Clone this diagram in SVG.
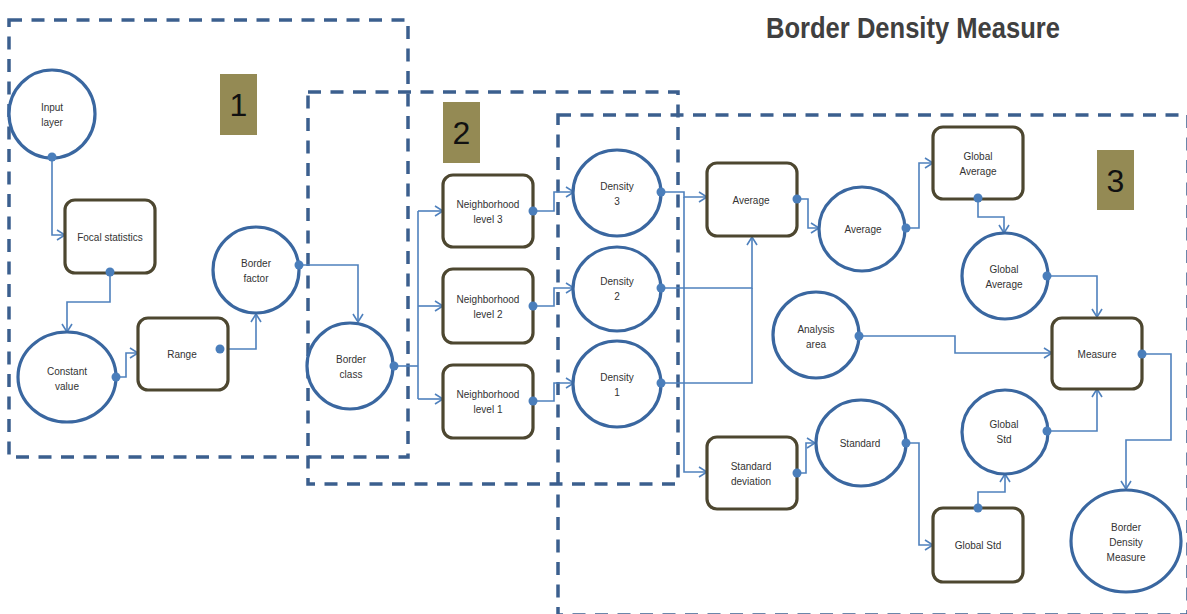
<svg xmlns="http://www.w3.org/2000/svg" width="1187" height="614" viewBox="0 0 1187 614">
  <defs>
    <marker id="arrow" viewBox="0 0 10 12" markerWidth="10" markerHeight="12" refX="9" refY="6" orient="auto" markerUnits="userSpaceOnUse">
      <path d="M1,1 L9,6 L1,11" fill="none" stroke="#4F81BD" stroke-width="1.6"/>
    </marker>
    <style>
      .zone { fill: none; stroke: #3B5F8E; stroke-width: 3.5; stroke-dasharray: 13 9.5; }
      .tag { fill: #948A54; }
      .tagtxt { font-family: "Liberation Sans", "DejaVu Sans", sans-serif; font-size: 32px; fill: #111; text-anchor: middle; }
      .data { fill: #fff; stroke: #3A67A0; stroke-width: 3.2; }
      .tool { fill: #fff; stroke: #4D4730; stroke-width: 3.2; }
      .lbl { font-family: "Liberation Sans", "DejaVu Sans", sans-serif; font-size: 10px; fill: #333; text-anchor: middle; }
      .wire { fill: none; stroke: #4F81BD; stroke-width: 1.6; }
      .dot { fill: #4A7EBB; }
      .title { font-family: "Liberation Sans", "DejaVu Sans", sans-serif; font-size: 30px; font-weight: bold; fill: #404040; }
    </style>
  </defs>

  <rect width="1187" height="614" fill="#fff"/>

  <!-- stage frames -->
  <g id="frames">
    <rect class="zone" x="9" y="20" width="399" height="437"/>
    <rect class="zone" x="308" y="92" width="370" height="392"/>
    <rect class="zone" x="558" y="115" width="630" height="500"/>
  </g>

  <text class="title" x="766" y="38" textLength="294" lengthAdjust="spacingAndGlyphs">Border Density Measure</text>

  <!-- stage numbers -->
  <g id="tag1"><rect class="tag" x="220" y="74" width="37" height="61"/><text class="tagtxt" x="238.5" y="116">1</text></g>
  <g id="tag2"><rect class="tag" x="443" y="102" width="37" height="61"/><text class="tagtxt" x="461.5" y="144">2</text></g>
  <g id="tag3"><rect class="tag" x="1097" y="150" width="37" height="60"/><text class="tagtxt" x="1115.5" y="192">3</text></g>

  <!-- connectors -->
  <g id="connectors">
    <path class="wire" d="M52,157 V235 H65" marker-end="url(#arrow)"/>
    <path class="wire" d="M110,272 V302 H67 V332" marker-end="url(#arrow)"/>
    <path class="wire" d="M116,377 H126 V353 H138" marker-end="url(#arrow)"/>
    <path class="wire" d="M220,349 H256 V314" marker-end="url(#arrow)"/>
    <path class="wire" d="M299,265 H358 V322" marker-end="url(#arrow)"/>
    <path class="wire" d="M394,366 H418"/>
    <path class="wire" d="M418,211 V399"/>
    <path class="wire" d="M418,211 H443" marker-end="url(#arrow)"/>
    <path class="wire" d="M418,306 H443" marker-end="url(#arrow)"/>
    <path class="wire" d="M418,399 H443" marker-end="url(#arrow)"/>
    <path class="wire" d="M533,211 H554 V192 H574" marker-end="url(#arrow)"/>
    <path class="wire" d="M533,306 H554 V288 H574" marker-end="url(#arrow)"/>
    <path class="wire" d="M533,401 H554 V383 H574" marker-end="url(#arrow)"/>
    <path class="wire" d="M661,192 H684 V197 H707" marker-end="url(#arrow)"/>
    <path class="wire" d="M684,197 V472 H707" marker-end="url(#arrow)"/>
    <path class="wire" d="M661,288 H752 V237" marker-end="url(#arrow)"/>
    <path class="wire" d="M661,383 H752 V288"/>
    <path class="wire" d="M797,199 H808 V228 H819" marker-end="url(#arrow)"/>
    <path class="wire" d="M906,228 H919 V163 H933" marker-end="url(#arrow)"/>
    <path class="wire" d="M978,198 V217 H1004 V233" marker-end="url(#arrow)"/>
    <path class="wire" d="M1047,276 H1097 V317" marker-end="url(#arrow)"/>
    <path class="wire" d="M859,336 H955 V353 H1052" marker-end="url(#arrow)"/>
    <path class="wire" d="M1142,354 H1171 V440 H1126 V489" marker-end="url(#arrow)"/>
    <path class="wire" d="M797,473 H806 V443 H815" marker-end="url(#arrow)"/>
    <path class="wire" d="M906,443 H919 V545 H933" marker-end="url(#arrow)"/>
    <path class="wire" d="M978,508 V492 H1005 V474" marker-end="url(#arrow)"/>
    <path class="wire" d="M1047,431 H1097 V389" marker-end="url(#arrow)"/>
  </g>

  <!-- nodes -->
  <g id="input-layer"><ellipse class="data" cx="52" cy="114" rx="43" ry="44"/><text class="lbl" x="52" y="111">Input</text><text class="lbl" x="52" y="126">layer</text></g>
  <g id="focal-statistics"><rect class="tool" x="65" y="200" width="90" height="73" rx="10"/><text class="lbl" x="110" y="241">Focal statistics</text></g>
  <g id="constant-value"><ellipse class="data" cx="67" cy="377" rx="49" ry="45"/><text class="lbl" x="67" y="375">Constant</text><text class="lbl" x="67" y="390">value</text></g>
  <g id="range"><rect class="tool" x="138" y="318" width="90" height="72" rx="10"/><text class="lbl" x="182" y="358">Range</text></g>
  <g id="border-factor"><ellipse class="data" cx="256" cy="270" rx="43" ry="43"/><text class="lbl" x="256" y="267">Border</text><text class="lbl" x="256" y="282">factor</text></g>
  <g id="border-class"><ellipse class="data" cx="350" cy="366" rx="43" ry="43"/><text class="lbl" x="351" y="363">Border</text><text class="lbl" x="351" y="378">class</text></g>
  <g id="neighborhood-3"><rect class="tool" x="443" y="175" width="90" height="72" rx="10"/><text class="lbl" x="488" y="208">Neighborhood</text><text class="lbl" x="488" y="223">level 3</text></g>
  <g id="neighborhood-2"><rect class="tool" x="443" y="269" width="90" height="74" rx="10"/><text class="lbl" x="488" y="303">Neighborhood</text><text class="lbl" x="488" y="318">level 2</text></g>
  <g id="neighborhood-1"><rect class="tool" x="443" y="365" width="90" height="73" rx="10"/><text class="lbl" x="488" y="398">Neighborhood</text><text class="lbl" x="488" y="413">level 1</text></g>
  <g id="density-3"><ellipse class="data" cx="617" cy="193" rx="44" ry="43"/><text class="lbl" x="617" y="190">Density</text><text class="lbl" x="617" y="205">3</text></g>
  <g id="density-2"><ellipse class="data" cx="617" cy="289" rx="44" ry="42"/><text class="lbl" x="617" y="285">Density</text><text class="lbl" x="617" y="300">2</text></g>
  <g id="density-1"><ellipse class="data" cx="617" cy="384" rx="44" ry="43"/><text class="lbl" x="617" y="381">Density</text><text class="lbl" x="617" y="396">1</text></g>
  <g id="average-tool"><rect class="tool" x="707" y="163" width="90" height="73" rx="10"/><text class="lbl" x="751" y="204">Average</text></g>
  <g id="average"><ellipse class="data" cx="862" cy="229" rx="43" ry="42"/><text class="lbl" x="863" y="233">Average</text></g>
  <g id="global-average-tool"><rect class="tool" x="933" y="127" width="90" height="72" rx="10"/><text class="lbl" x="978" y="160">Global</text><text class="lbl" x="978" y="175">Average</text></g>
  <g id="global-average"><ellipse class="data" cx="1005" cy="276" rx="43" ry="43"/><text class="lbl" x="1004" y="273">Global</text><text class="lbl" x="1004" y="288">Average</text></g>
  <g id="analysis-area"><ellipse class="data" cx="816" cy="335" rx="43" ry="43"/><text class="lbl" x="816" y="333">Analysis</text><text class="lbl" x="816" y="348">area</text></g>
  <g id="measure"><rect class="tool" x="1052" y="318" width="90" height="71" rx="10"/><text class="lbl" x="1097" y="358">Measure</text></g>
  <g id="standard-deviation"><rect class="tool" x="707" y="437" width="90" height="72" rx="10"/><text class="lbl" x="751" y="470">Standard</text><text class="lbl" x="751" y="485">deviation</text></g>
  <g id="standard"><ellipse class="data" cx="861" cy="443" rx="45" ry="43"/><text class="lbl" x="860" y="447">Standard</text></g>
  <g id="global-std-tool"><rect class="tool" x="933" y="508" width="90" height="74" rx="10"/><text class="lbl" x="978" y="549">Global Std</text></g>
  <g id="global-std"><ellipse class="data" cx="1005" cy="432" rx="43" ry="42"/><text class="lbl" x="1004" y="428">Global</text><text class="lbl" x="1004" y="443">Std</text></g>
  <g id="border-density-measure"><ellipse class="data" cx="1126" cy="541" rx="55" ry="51"/><text class="lbl" x="1126" y="531">Border</text><text class="lbl" x="1126" y="546">Density</text><text class="lbl" x="1126" y="561">Measure</text></g>

  <!-- output ports -->
  <g id="ports">
    <circle class="dot" cx="52" cy="157" r="4.5"/>
    <circle class="dot" cx="110" cy="272" r="4.5"/>
    <circle class="dot" cx="116" cy="377" r="4.5"/>
    <circle class="dot" cx="220" cy="349" r="4.5"/>
    <circle class="dot" cx="299" cy="265" r="4.5"/>
    <circle class="dot" cx="394" cy="366" r="4.5"/>
    <circle class="dot" cx="533" cy="211" r="4.5"/>
    <circle class="dot" cx="533" cy="306" r="4.5"/>
    <circle class="dot" cx="533" cy="401" r="4.5"/>
    <circle class="dot" cx="661" cy="192" r="4.5"/>
    <circle class="dot" cx="661" cy="288" r="4.5"/>
    <circle class="dot" cx="661" cy="383" r="4.5"/>
    <circle class="dot" cx="797" cy="199" r="4.5"/>
    <circle class="dot" cx="906" cy="228" r="4.5"/>
    <circle class="dot" cx="978" cy="198" r="4.5"/>
    <circle class="dot" cx="1047" cy="276" r="4.5"/>
    <circle class="dot" cx="859" cy="336" r="4.5"/>
    <circle class="dot" cx="1142" cy="354" r="4.5"/>
    <circle class="dot" cx="797" cy="473" r="4.5"/>
    <circle class="dot" cx="906" cy="443" r="4.5"/>
    <circle class="dot" cx="978" cy="508" r="4.5"/>
    <circle class="dot" cx="1047" cy="431" r="4.5"/>
  </g>
</svg>
